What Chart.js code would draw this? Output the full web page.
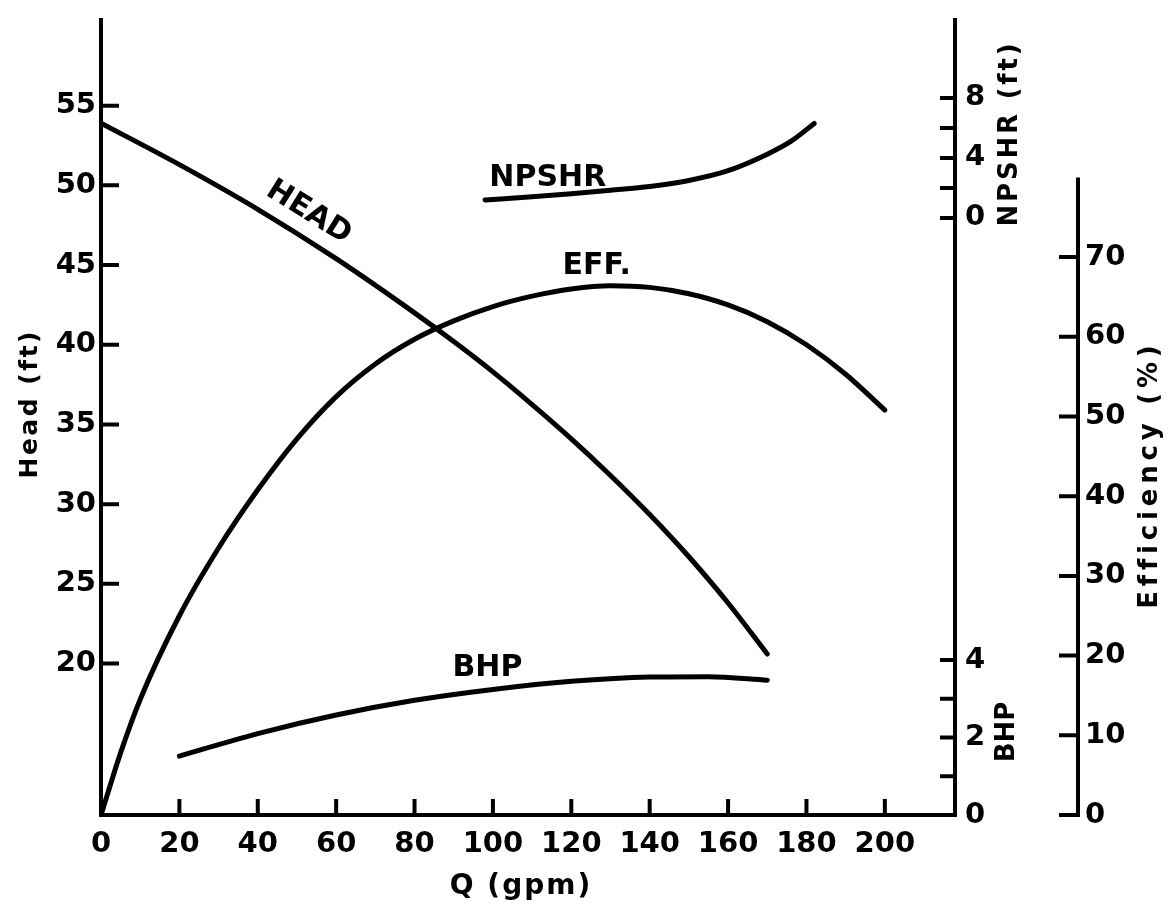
<!DOCTYPE html>
<html>
<head>
<meta charset="utf-8">
<title>Pump performance curves</title>
<script src="https://cdn.jsdelivr.net/npm/chart.js@4.4.1/dist/chart.umd.min.js"></script>
<style>
  html, body { margin: 0; padding: 0; background: #fff; }
  #wrap { width: 1171px; height: 912px; }
</style>
</head>
<body>
<div id="wrap"><canvas id="pumpChart" width="1171" height="912"></canvas></div>
<script>
// Values (Q in gpm)
const flowHead = [0, 20, 40, 60, 80, 90, 100, 110, 120, 130, 140, 150, 160, 170];
const headFt = [53.9, 51.3, 48.5, 45.4, 42.0, 40.2, 38.3, 36.25, 34.1, 31.8, 29.35, 26.7, 23.8, 20.6];

const flowEff = [0, 5, 10, 20, 30, 40, 50, 60, 70, 80, 90, 100, 110, 120, 130, 140, 150, 160, 170, 180, 190, 200];
const effPct = [0, 7.8, 14.5, 25.0, 33.5, 40.8, 47.2, 52.5, 56.6, 59.7, 62.0, 63.8, 65.1, 66.0, 66.4, 66.2, 65.4, 64.0, 61.9, 59.0, 55.3, 50.8];

const flowBhp = [20, 40, 60, 80, 100, 120, 140, 155, 170];
const bhpHp = [1.52, 2.1, 2.58, 2.96, 3.24, 3.45, 3.56, 3.57, 3.48];

const flowNpshr = [98, 110, 120, 130, 140, 150, 160, 170, 176, 182];
const npshrFt = [1.2, 1.41, 1.62, 1.85, 2.1, 2.5, 3.15, 4.25, 5.1, 6.3];

// Tick values
const qTicks = [0, 20, 40, 60, 80, 100, 120, 140, 160, 180, 200];
const headTicks = [20, 25, 30, 35, 40, 45, 50, 55];
const bhpTicks = [0, 2, 4];
const bhpMinor = [1, 2, 3, 4];
const npshrTicks = [0, 4, 8];
const npshrMinor = [0, 2, 4, 6, 8];
const effTicks = [0, 10, 20, 30, 40, 50, 60, 70];

const FONT = '"DejaVu Sans", Verdana, sans-serif';
const effAxisTop = 80;

function pts(xs, ys) {
    return xs.map((x, i) => ({ x: x, y: ys[i] }));
}

function setTicks(values) {
    return (scale) => { scale.ticks = values.map(v => ({ value: v })); };
}

function fixSize(size) {
    return (scale) => {
        if (scale.isHorizontal()) scale.height = size; else scale.width = size;
        scale.paddingLeft = scale.paddingRight = scale.paddingTop = scale.paddingBottom = 0;
    };
}

function drawText(ctx, text, x, y, angle, size, spacing, align) {
    ctx.save();
    ctx.translate(x, y);
    ctx.rotate(angle * Math.PI / 180);
    ctx.font = `bold ${size}px ${FONT}`;
    ctx.letterSpacing = (spacing || 0) + 'px';
    ctx.textAlign = align || 'center';
    ctx.textBaseline = 'middle';
    ctx.fillStyle = '#000';
    ctx.fillText(text, align ? 0 : (spacing || 0) / 2, 0);
    ctx.restore();
}

const decor = {
    id: 'decor',
    afterDraw(chart) {
        const ctx = chart.ctx;
        const a = chart.chartArea;
        const sx = chart.scales.x;
        const sh = chart.scales.yHead;
        const sb = chart.scales.yBhp;
        const sn = chart.scales.yNpshr;
        const se = chart.scales.yEff;
        const effX = a.right + 123;

        ctx.save();
        ctx.strokeStyle = '#000';
        ctx.lineWidth = 4;
        ctx.lineCap = 'butt';
        ctx.beginPath();
        // frame lines
        ctx.moveTo(a.left, a.top); ctx.lineTo(a.left, a.bottom + 2);
        ctx.moveTo(a.left - 2, a.bottom); ctx.lineTo(a.right + 2, a.bottom);
        ctx.moveTo(a.right, a.top); ctx.lineTo(a.right, a.bottom + 2);
        ctx.moveTo(effX, se.getPixelForValue(effAxisTop)); ctx.lineTo(effX, se.getPixelForValue(0) + 2);
        // inward ticks
        headTicks.forEach(v => { const y = sh.getPixelForValue(v); ctx.moveTo(a.left, y); ctx.lineTo(a.left + 18, y); });
        qTicks.slice(1).forEach(v => { const x = sx.getPixelForValue(v); ctx.moveTo(x, a.bottom); ctx.lineTo(x, a.bottom - 16); });
        bhpMinor.forEach(v => { const y = sb.getPixelForValue(v); ctx.moveTo(a.right, y); ctx.lineTo(a.right - 15, y); });
        npshrMinor.forEach(v => { const y = sn.getPixelForValue(v); ctx.moveTo(a.right, y); ctx.lineTo(a.right - 15, y); });
        effTicks.forEach(v => { const y = se.getPixelForValue(v); ctx.moveTo(effX, y); ctx.lineTo(effX - 19, y); });
        ctx.stroke();
        ctx.restore();

        // BHP and NPSHR tick labels share one axis line
        bhpTicks.forEach(v => drawText(ctx, String(v), a.right + 10, sb.getPixelForValue(v), 0, 29, 0, 'left'));
        npshrTicks.forEach(v => drawText(ctx, String(v), a.right + 10, sn.getPixelForValue(v), 0, 29, 0, 'left'));

        // axis titles
        drawText(ctx, 'Head (ft)', 30, 405, -90, 25, 2.5);
        drawText(ctx, 'Q (gpm)', 520, 887, 0, 28, 2);
        drawText(ctx, 'NPSHR (ft)', 1010, 135, -90, 26, 2.8);
        drawText(ctx, 'BHP', 1007, 732, -90, 26, 0);
        drawText(ctx, 'Efficiency (%)', 1150, 477, -90, 26, 4.8);

        // curve labels, placed in data units
        drawText(ctx, 'HEAD', sx.getPixelForValue(53), sh.getPixelForValue(48.3), 32, 30, 0);
        drawText(ctx, 'NPSHR', sx.getPixelForValue(114), sn.getPixelForValue(2.67), 0, 30, 0);
        drawText(ctx, 'EFF.', sx.getPixelForValue(126.5), se.getPixelForValue(68.8), 0, 30, 0);
        drawText(ctx, 'BHP', sx.getPixelForValue(98.6), sb.getPixelForValue(3.79), 0, 30, 0);
    }
};

const curveStyle = {
    borderColor: '#000',
    borderWidth: 5,
    borderCapStyle: 'round',
    borderJoinStyle: 'round',
    pointRadius: 0,
    fill: false,
    cubicInterpolationMode: 'monotone'
};

const tickFont = { family: FONT, size: 29, weight: 'bold' };
const noGrid = { display: false, drawTicks: false };

new Chart(document.getElementById('pumpChart'), {
    type: 'line',
    data: {
        datasets: [
            Object.assign({ label: 'HEAD', data: pts(flowHead, headFt), yAxisID: 'yHead' }, curveStyle),
            Object.assign({ label: 'EFF.', data: pts(flowEff, effPct), yAxisID: 'yEff' }, curveStyle),
            Object.assign({ label: 'BHP', data: pts(flowBhp, bhpHp), yAxisID: 'yBhp' }, curveStyle),
            Object.assign({ label: 'NPSHR', data: pts(flowNpshr, npshrFt), yAxisID: 'yNpshr' }, curveStyle)
        ]
    },
    options: {
        responsive: false,
        devicePixelRatio: 1,
        animation: false,
        layout: { autoPadding: false, padding: { left: 0, right: 0, top: 18, bottom: 0 } },
        plugins: { legend: { display: false }, tooltip: { enabled: false } },
        scales: {
            x: {
                type: 'linear', position: 'bottom', min: 0, max: 217.9,
                grid: noGrid, border: { display: false },
                ticks: { font: tickFont, color: '#000', padding: 12, autoSkip: false, maxRotation: 0, minRotation: 0 },
                afterBuildTicks: setTicks(qTicks), afterFit: fixSize(97)
            },
            yHead: {
                type: 'linear', position: 'left', min: 10.5, max: 60.5,
                grid: noGrid, border: { display: false },
                ticks: { font: tickFont, color: '#000', padding: 5, autoSkip: false },
                afterBuildTicks: setTicks(headTicks), afterFit: fixSize(101)
            },
            yEff: {
                type: 'linear', position: 'right', min: 0, max: 100,
                grid: noGrid, border: { display: false },
                ticks: { font: tickFont, color: '#000', padding: 130, autoSkip: false },
                afterBuildTicks: setTicks(effTicks), afterFit: fixSize(216)
            },
            yBhp: {
                type: 'linear', position: 'right', min: 0, max: 20.57,
                grid: noGrid, border: { display: false },
                ticks: { display: false },
                afterBuildTicks: setTicks(bhpTicks), afterFit: fixSize(0)
            },
            yNpshr: {
                type: 'linear', position: 'right', min: -39.8, max: 13.33,
                grid: noGrid, border: { display: false },
                ticks: { display: false },
                afterBuildTicks: setTicks(npshrTicks), afterFit: fixSize(0)
            }
        }
    },
    plugins: [decor]
});
</script>
</body>
</html>
